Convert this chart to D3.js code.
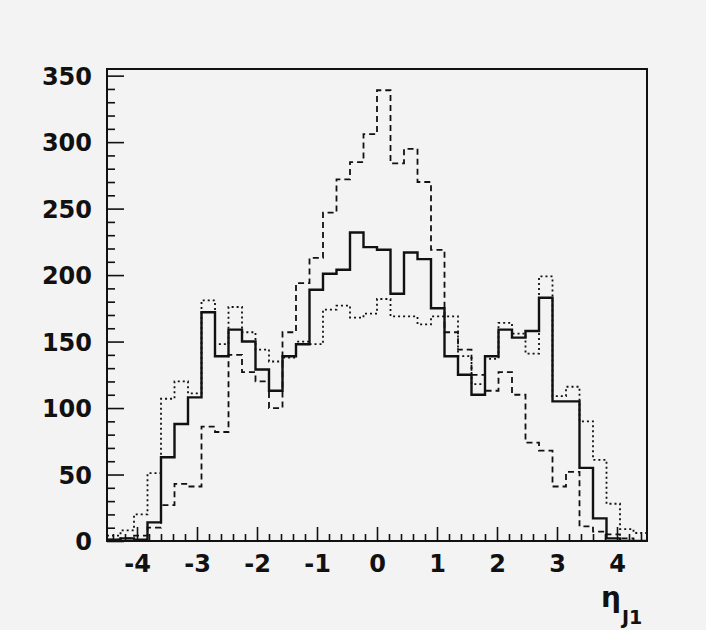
<!DOCTYPE html>
<html>
<head>
<meta charset="utf-8">
<script src="https://cdn.jsdelivr.net/npm/d3@7"></script>
<style>
  html, body { margin: 0; padding: 0; background: #f3f3f3; }
  #chart { width: 706px; height: 630px; }
</style>
</head>
<body>
<div id="chart"></div>
<script>
// Histogram binning: 40 bins between -4.5 and 4.5
const binLow = -4.5;
const binHigh = 4.5;
const nBins = 40;

// Bin contents, one value per bin
const solidCounts = [1, 2, 1, 14, 63, 88, 108, 172, 139, 159,
                     150, 129, 113, 139, 148, 189, 201, 204, 232, 221,
                     219, 186, 217, 212, 175, 139, 125, 110, 139, 159,
                     153, 158, 183, 105, 105, 55, 17, 2, 0, 0];
const dashedCounts = [1, 2, 4, 10, 27, 43, 41, 86, 82, 140,
                      127, 120, 100, 157, 194, 213, 247, 272, 285, 306,
                      339, 284, 295, 270, 219, 157, 144, 125, 113, 127,
                      110, 74, 68, 41, 52, 11, 7, 5, 2, 0];
const dottedCounts = [4, 8, 20, 51, 107, 120, 111, 181, 148, 176,
                      157, 144, 135, 138, 150, 148, 174, 177, 168, 171,
                      182, 169, 169, 163, 169, 169, 139, 118, 137, 164,
                      156, 141, 199, 109, 116, 90, 61, 28, 9, 6];

// Axis labels
const xTickValues = [-4, -3, -2, -1, 0, 1, 2, 3, 4];
const yTickValues = [0, 50, 100, 150, 200, 250, 300, 350];
const yMax = 355;

const width = 706, height = 630;
const frame = { left: 107, right: 647, top: 69, bottom: 541 };

const svg = d3.select("#chart")
    .append("svg")
    .attr("width", width)
    .attr("height", height);

svg.append("rect")
    .attr("width", width)
    .attr("height", height)
    .attr("fill", "#f3f3f3");

const x = d3.scaleLinear().domain([binLow, binHigh]).range([frame.left, frame.right]);
const y = d3.scaleLinear().domain([0, yMax]).range([frame.bottom, frame.top]);

const binWidth = (binHigh - binLow) / nBins;

// Turn bin contents into step points (left edge of each bin + final edge)
function stepPoints(counts) {
    const pts = counts.map((c, i) => [binLow + i * binWidth, c]);
    pts.push([binHigh, counts[counts.length - 1]]);
    return pts;
}

const stepLine = d3.line()
    .x(d => x(d[0]))
    .y(d => y(d[1]))
    .curve(d3.curveStepAfter);

svg.append("clipPath").attr("id", "frameClip")
    .append("rect")
    .attr("x", frame.left).attr("y", frame.top)
    .attr("width", frame.right - frame.left)
    .attr("height", frame.bottom - frame.top);

const plot = svg.append("g").attr("clip-path", "url(#frameClip)");

const series = [
    { counts: dottedCounts, width: 1.8, dash: "2,3" },
    { counts: dashedCounts, width: 1.8, dash: "6,4" },
    { counts: solidCounts, width: 2.4, dash: null }
];

series.forEach(s => {
    plot.append("path")
        .datum(stepPoints(s.counts))
        .attr("d", stepLine)
        .attr("fill", "none")
        .attr("stroke", "#111")
        .attr("stroke-width", s.width)
        .attr("stroke-dasharray", s.dash);
});

// Frame
svg.append("rect")
    .attr("x", frame.left).attr("y", frame.top)
    .attr("width", frame.right - frame.left)
    .attr("height", frame.bottom - frame.top)
    .attr("fill", "none")
    .attr("stroke", "#111")
    .attr("stroke-width", 2);

// X ticks: majors on integers, minors every 0.2
const xMinor = d3.range(-44, 45, 2).map(v => v / 10).filter(v => Math.abs(v - Math.round(v)) > 1e-6);
const xAxis = d3.axisBottom(x).tickValues(xTickValues).tickFormat(d3.format("d")).tickSize(-14).tickPadding(18);
const xAxisMinor = d3.axisBottom(x).tickValues(xMinor).tickFormat("").tickSize(-7);

const gx = svg.append("g").attr("transform", `translate(0,${frame.bottom})`).call(xAxis);
svg.append("g").attr("transform", `translate(0,${frame.bottom})`).call(xAxisMinor);

// Y ticks: majors every 50, minors every 10
const yMinor = d3.range(0, 351, 10).filter(v => v % 50 !== 0);
const yAxis = d3.axisLeft(y).tickValues(yTickValues).tickSize(-17).tickPadding(15);
const yAxisMinor = d3.axisLeft(y).tickValues(yMinor).tickFormat("").tickSize(-8);

const gy = svg.append("g").attr("transform", `translate(${frame.left},0)`).call(yAxis);
svg.append("g").attr("transform", `translate(${frame.left},0)`).call(yAxisMinor);

svg.selectAll(".domain").remove();
svg.selectAll(".tick line").attr("stroke", "#111").attr("stroke-width", 1.6);

gx.selectAll(".tick text")
    .text(d => d < 0 ? "-" + Math.abs(d) : d)
    .attr("font-family", "DejaVu Sans")
    .attr("font-weight", "bold")
    .attr("font-size", 24)
    .attr("fill", "#111")
    .attr("dy", "0.71em")
    .attr("y", 14);

gy.selectAll(".tick text")
    .attr("font-family", "DejaVu Sans")
    .attr("font-weight", "bold")
    .attr("font-size", 24)
    .attr("fill", "#111")
    .attr("x", -15)
    .attr("dy", "0.36em");

// Axis title: eta with subscript J1
const title = svg.append("text")
    .attr("x", 601)
    .attr("y", 607)
    .attr("fill", "#111")
    .attr("font-family", "DejaVu Sans")
    .attr("font-weight", "bold");
title.append("tspan")
    .attr("font-size", 28)
    .text("η");
title.append("tspan")
    .attr("font-size", 19)
    .attr("dy", 17)
    .attr("dx", 1)
    .text("J1");
</script>
</body>
</html>
